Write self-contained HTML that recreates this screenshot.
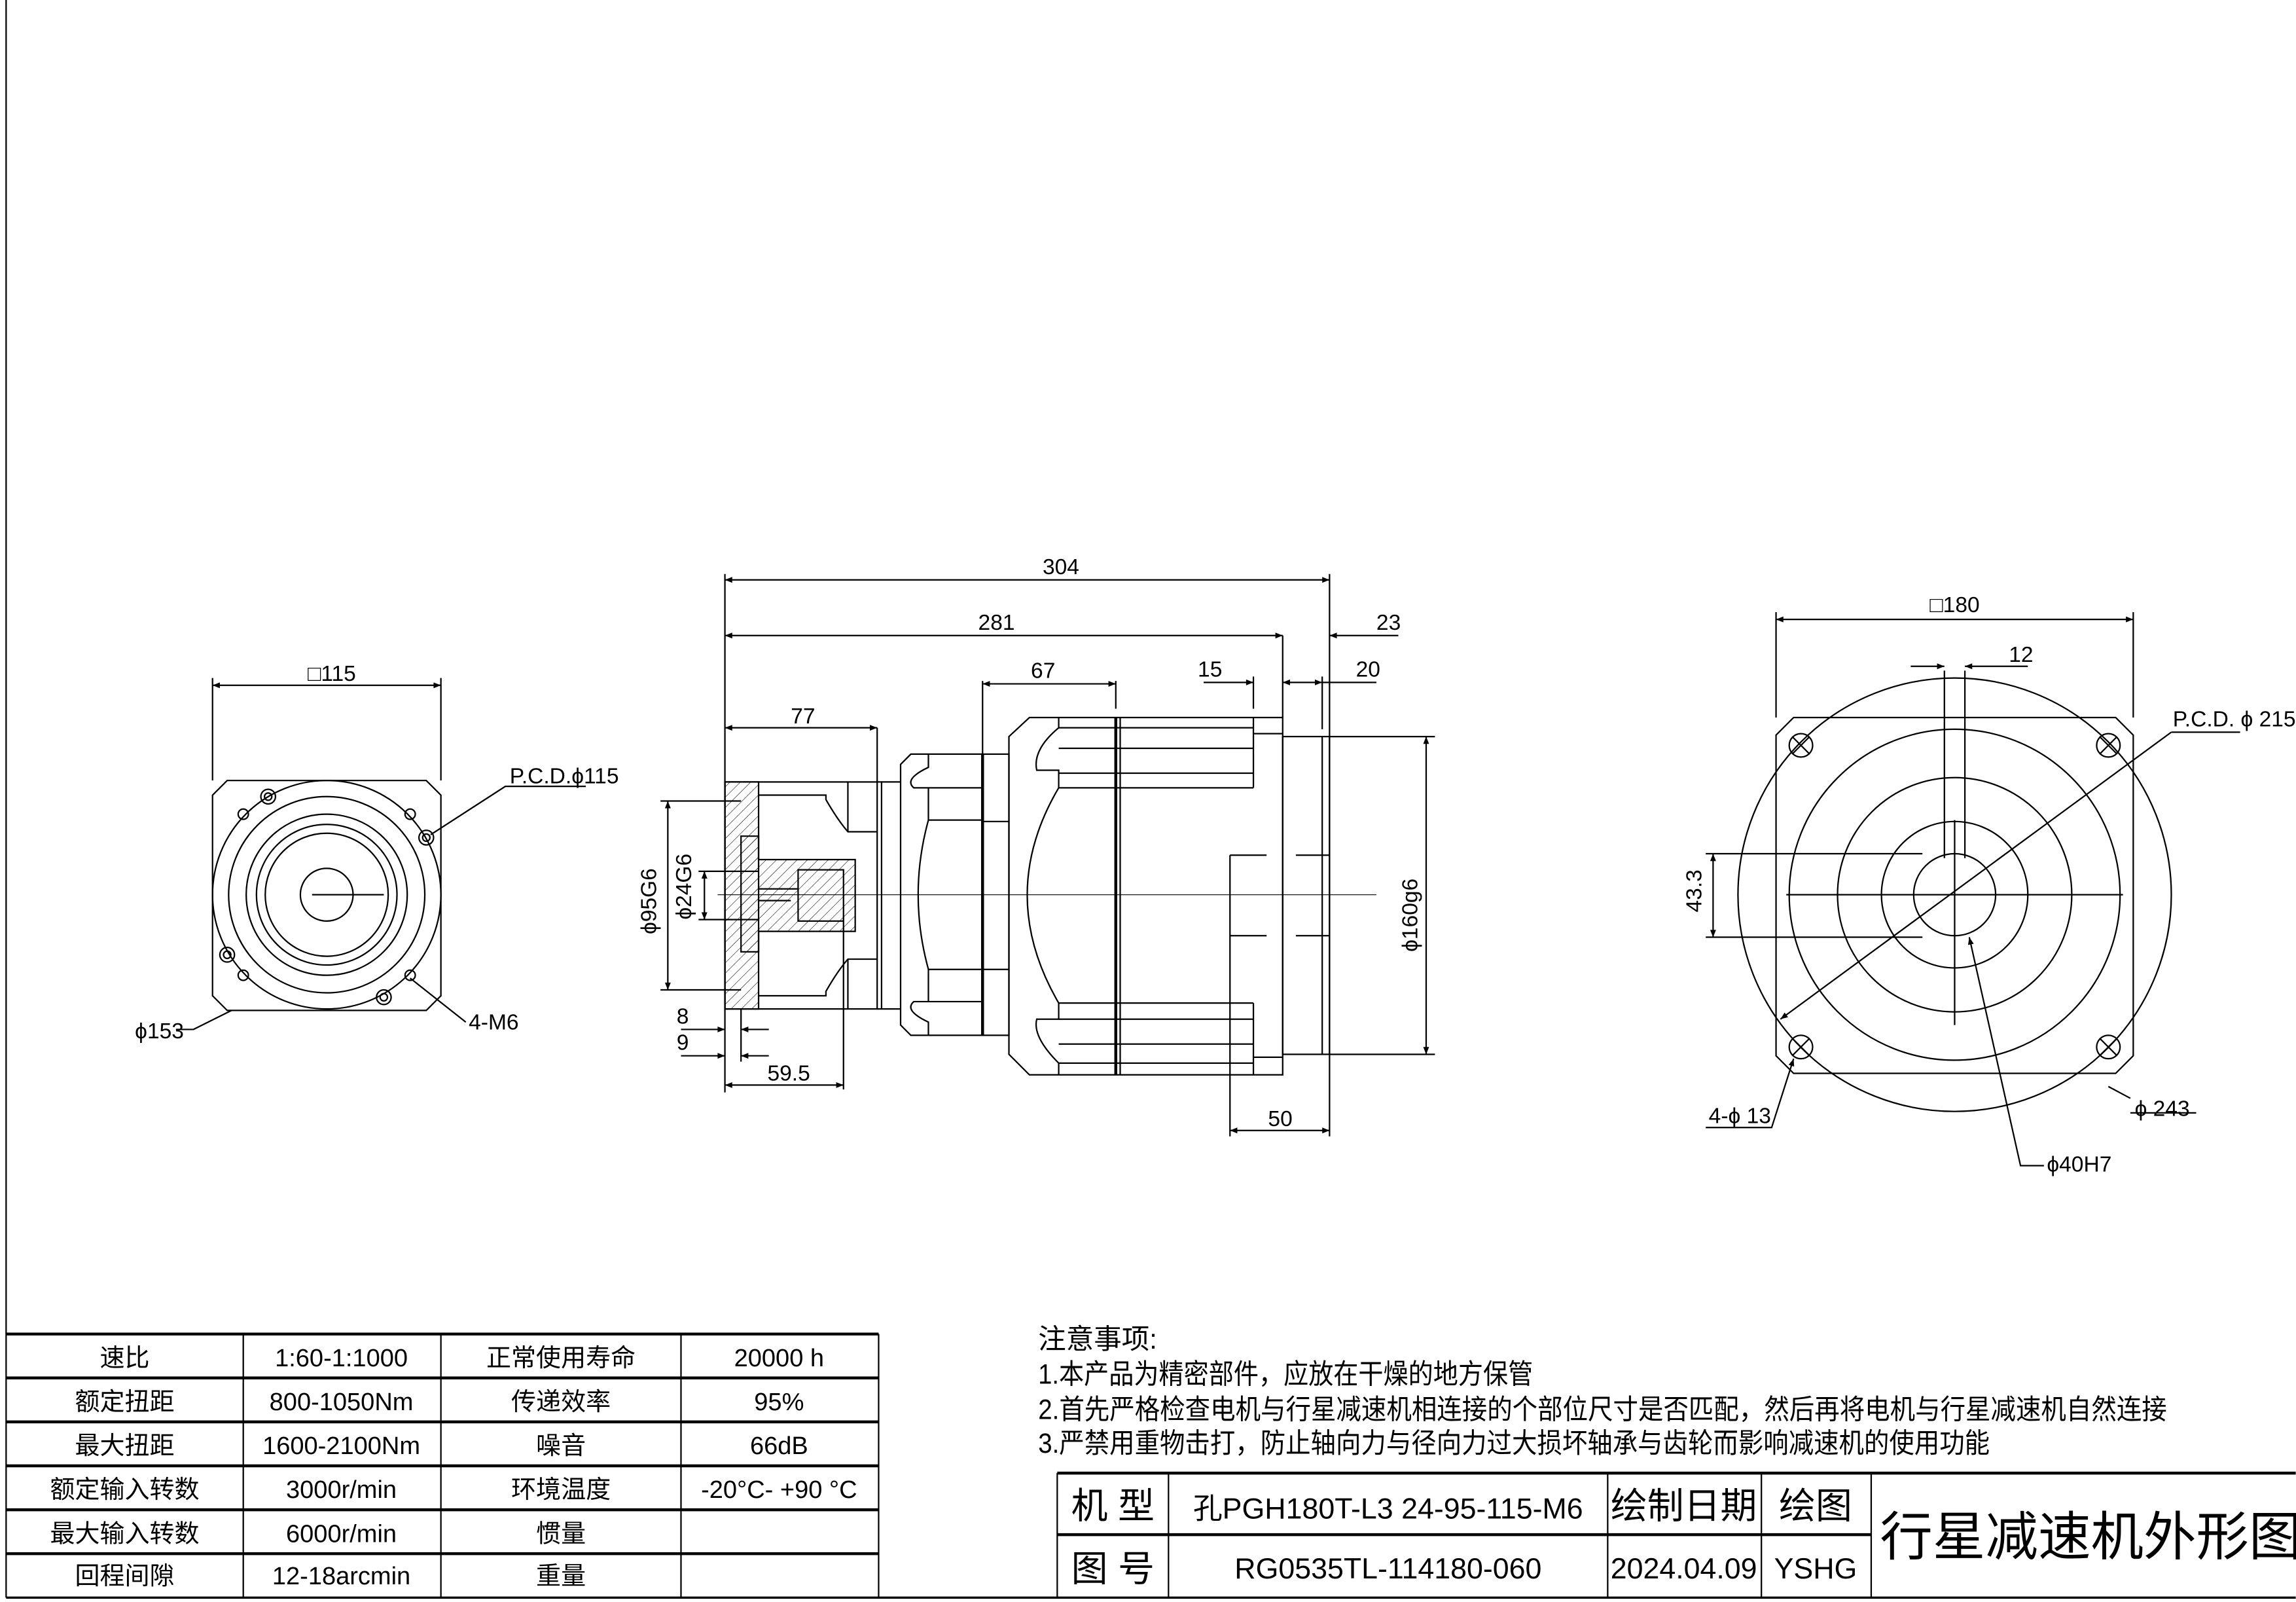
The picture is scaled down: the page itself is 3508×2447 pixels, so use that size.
<!DOCTYPE html>
<html><head><meta charset="utf-8"><style>
html,body{margin:0;padding:0;background:#fff;}
svg{display:block}
text{font-family:"Liberation Sans","Noto Sans CJK SC",sans-serif;fill:#000}
</style></head><body>
<svg width="3508" height="2447" viewBox="0 0 1568 1094" xmlns="http://www.w3.org/2000/svg">
<defs>
<marker id="a" viewBox="0 0 10 10" refX="10" refY="5" markerWidth="9" markerHeight="5" orient="auto-start-reverse" markerUnits="userSpaceOnUse"><path d="M0,1 L10,5 L0,9z" fill="#000"/></marker>
<pattern id="h" width="5" height="5" patternUnits="userSpaceOnUse" patternTransform="rotate(45)"><line x1="0" y1="0" x2="0" y2="5" stroke="#000" stroke-width="0.5"/></pattern>
</defs>
<g fill="none" stroke="#000" stroke-width="1">
<line x1="4" y1="0" x2="4" y2="1091"/>
<line x1="4" y1="1091" x2="1568" y2="1091" stroke-width="1.5"/>

<!-- LEFT VIEW -->
<path d="M155,533 H291 L301,543 V680 L291,690 H155 L145,680 V543 Z"/>
<circle cx="223" cy="611" r="78"/>
<circle cx="223" cy="611" r="67"/>
<circle cx="223" cy="611" r="55"/>
<circle cx="223" cy="611" r="48"/>
<circle cx="223" cy="611" r="42"/>
<circle cx="223" cy="611" r="18"/>
<line x1="213" y1="611" x2="262" y2="611"/>
<circle cx="166" cy="556" r="3.5"/><circle cx="280" cy="556" r="3.5"/><circle cx="166" cy="666" r="3.5"/><circle cx="280" cy="666" r="3.5"/>
<circle cx="183" cy="544" r="5"/><circle cx="183" cy="544" r="2.5"/>
<circle cx="291" cy="572" r="5"/><circle cx="291" cy="572" r="2.5"/>
<circle cx="155" cy="652" r="5"/><circle cx="155" cy="652" r="2.5"/>
<circle cx="262" cy="681" r="5"/><circle cx="262" cy="681" r="2.5"/>
<line x1="145" y1="533" x2="145" y2="463"/><line x1="301" y1="533" x2="301" y2="463"/>
<line x1="145" y1="468" x2="301" y2="468" marker-start="url(#a)" marker-end="url(#a)"/>
<polyline points="294,570 345,537 400,537"/>
<polyline points="280,668 318,698"/>
<polyline points="120,703 132,703 158,690"/>

<!-- CENTER VIEW -->
<line x1="495" y1="392" x2="495" y2="746"/>
<line x1="908" y1="392" x2="908" y2="776"/>
<line x1="495" y1="396" x2="908" y2="396" marker-start="url(#a)" marker-end="url(#a)"/>
<line x1="495" y1="434" x2="876" y2="434" marker-start="url(#a)" marker-end="url(#a)"/>
<line x1="876" y1="434" x2="876" y2="490"/>
<line x1="908" y1="434" x2="955" y2="434" marker-start="url(#a)"/>
<line x1="495" y1="497" x2="599" y2="497" marker-start="url(#a)" marker-end="url(#a)"/>
<line x1="599" y1="497" x2="599" y2="534"/>
<line x1="671" y1="465" x2="671" y2="515"/>
<line x1="762" y1="465" x2="762" y2="484"/>
<line x1="671" y1="467" x2="762" y2="467" marker-start="url(#a)" marker-end="url(#a)"/>
<line x1="856" y1="462" x2="856" y2="484"/>
<line x1="822" y1="466" x2="856" y2="466" marker-end="url(#a)"/>
<line x1="903" y1="462" x2="903" y2="498"/>
<line x1="876" y1="466" x2="903" y2="466" marker-start="url(#a)" marker-end="url(#a)"/>
<line x1="903" y1="466" x2="940" y2="466"/>
<!-- housing -->
<path d="M703,490 H876 V734 H703 L689,720 V503 Z"/>
<line x1="762" y1="490" x2="762" y2="734" stroke-width="2"/>
<line x1="765" y1="490" x2="765" y2="734"/>
<line x1="856" y1="490" x2="856" y2="538"/><line x1="856" y1="685" x2="856" y2="734"/>
<line x1="856" y1="501" x2="876" y2="501"/><line x1="856" y1="722" x2="876" y2="722"/>
<path d="M723,497 H856 M723,511 H856 M723,528 H856 M723,538 H856"/>
<path d="M723,685 H856 M723,696 H856 M723,713 H856 M723,726 H856"/>
<path d="M723,490 V497 Q705,512 708,526 H723 V538 Q680,611 723,685 V696 H708 Q705,708 723,726 V734"/>
<!-- flange -->
<rect x="876" y="503" width="32" height="217"/>
<line x1="903" y1="503" x2="903" y2="720"/>
<line x1="908" y1="503" x2="980" y2="503"/><line x1="908" y1="720" x2="980" y2="720"/>
<line x1="974" y1="503" x2="974" y2="720" marker-start="url(#a)" marker-end="url(#a)"/>
<line x1="840" y1="584" x2="840" y2="776"/>
<line x1="840" y1="584" x2="865" y2="584"/><line x1="885" y1="584" x2="908" y2="584"/>
<line x1="840" y1="639" x2="865" y2="639"/><line x1="885" y1="639" x2="908" y2="639"/>
<line x1="840" y1="772" x2="908" y2="772" marker-start="url(#a)" marker-end="url(#a)"/>
<!-- middle -->
<path d="M622,515 H671 V707 H622 L615,700 V522 Z"/>
<rect x="671" y="515" width="18" height="192"/>
<line x1="671" y1="515" x2="671" y2="707" stroke-width="2"/>
<path d="M634,515 V524 Q617,532 624,538 H671 M634,707 V698 Q617,690 624,684 H671"/>
<path d="M634,560 Q620,611 634,662 M634,538 V560 M634,662 V684"/>
<line x1="634" y1="560" x2="671" y2="560"/><line x1="634" y1="662" x2="671" y2="662"/>
<line x1="671" y1="561" x2="689" y2="561"/><line x1="671" y1="662" x2="689" y2="662"/>
<!-- adapter -->
<rect x="495" y="534" width="104" height="155"/>
<line x1="599" y1="534" x2="615" y2="534"/><line x1="599" y1="689" x2="615" y2="689"/>
<line x1="602" y1="534" x2="602" y2="689"/>
<path d="M495,534 H518 V689 H495Z" fill="url(#h)"/>
<path d="M506,571 H518 V587 H584 V636 H518 V650 H506Z" fill="url(#h)"/>
<path d="M518,543 H564 V546 Q572,560 579,568 H599 M518,680 H564 V677 Q572,663 579,655 H599"/>
<line x1="579" y1="534" x2="579" y2="568"/><line x1="579" y1="655" x2="579" y2="689"/>
<rect x="545" y="594" width="31" height="35"/>
<line x1="518" y1="607" x2="545" y2="607"/><line x1="518" y1="615" x2="540" y2="615"/>
<line x1="576" y1="629" x2="576" y2="744"/>
<line x1="451" y1="547" x2="506" y2="547"/><line x1="451" y1="676" x2="506" y2="676"/>
<line x1="456" y1="547" x2="456" y2="676" marker-start="url(#a)" marker-end="url(#a)"/>
<line x1="477" y1="595" x2="518" y2="595"/><line x1="477" y1="628" x2="518" y2="628"/>
<line x1="481" y1="595" x2="481" y2="628" marker-start="url(#a)" marker-end="url(#a)"/>
<line x1="506" y1="689" x2="506" y2="725"/>
<line x1="465" y1="703" x2="495" y2="703" marker-end="url(#a)"/><line x1="506" y1="703" x2="525" y2="703" marker-start="url(#a)"/>
<line x1="465" y1="721" x2="495" y2="721" marker-end="url(#a)"/><line x1="506" y1="721" x2="525" y2="721" marker-start="url(#a)"/>
<line x1="495" y1="741" x2="576" y2="741" marker-start="url(#a)" marker-end="url(#a)"/>
<line x1="490" y1="611" x2="940" y2="611" stroke-width="0.5"/>

<!-- RIGHT VIEW -->
<path d="M1225,490 H1445 L1457,502 V721 L1445,733 H1225 L1213,721 V502 Z"/>
<circle cx="1335" cy="611" r="148"/>
<circle cx="1335" cy="611" r="113"/>
<circle cx="1335" cy="611" r="80"/>
<circle cx="1335" cy="611" r="50"/>
<circle cx="1335" cy="611" r="28"/>
<line x1="1328" y1="458" x2="1328" y2="586"/><line x1="1342" y1="458" x2="1342" y2="586"/>
<line x1="1220" y1="611" x2="1450" y2="611"/><line x1="1335" y1="560" x2="1335" y2="700"/>
<g><circle cx="1230" cy="509" r="8"/><path d="M1224,503 L1236,515 M1236,503 L1224,515"/></g>
<g><circle cx="1440" cy="509" r="8"/><path d="M1434,503 L1446,515 M1446,503 L1434,515"/></g>
<g><circle cx="1230" cy="715" r="8"/><path d="M1224,709 L1236,721 M1236,709 L1224,721"/></g>
<g><circle cx="1440" cy="715" r="8"/><path d="M1434,709 L1446,721 M1446,709 L1434,721"/></g>
<line x1="1213" y1="490" x2="1213" y2="418"/><line x1="1457" y1="490" x2="1457" y2="418"/>
<line x1="1213" y1="423" x2="1457" y2="423" marker-start="url(#a)" marker-end="url(#a)"/>
<line x1="1305" y1="455" x2="1328" y2="455" marker-end="url(#a)"/><line x1="1342" y1="455" x2="1385" y2="455" marker-start="url(#a)"/>
<line x1="1165" y1="583" x2="1313" y2="583"/><line x1="1165" y1="640" x2="1313" y2="640"/>
<line x1="1170" y1="583" x2="1170" y2="640" marker-start="url(#a)" marker-end="url(#a)"/>
<line x1="1216" y1="696" x2="1483" y2="500" marker-start="url(#a)"/>
<line x1="1483" y1="500" x2="1530" y2="500"/>
<polyline points="1165,770 1210,770 1225,723" marker-end="url(#a)"/>
<line x1="1440" y1="742" x2="1455" y2="750"/><line x1="1455" y1="760" x2="1500" y2="760"/>
<polyline points="1396,796 1380,796 1345,640" marker-end="url(#a)"/>

<!-- TABLE -->
<path d="M4,911 H600 M4,941 H600 M4,971 H600 M4,1001 H600 M4,1031 H600 M4,1061 H600" stroke-width="2"/>
<path d="M166,911 V1091 M301,911 V1091 M465,911 V1091 M600,911 V1091"/>
<path d="M722,1006 H1568 M722,1048 H1278" stroke-width="2"/>
<path d="M722,1006 V1091 M798,1006 V1091 M1098,1006 V1091 M1203,1006 V1091 M1278,1006 V1091"/>
</g>

<g font-size="15">
<text x="210" y="465">□115</text>
<text x="348" y="535">P.C.D.ϕ115</text>
<text x="92" y="709">ϕ153</text>
<text x="320" y="703">4-M6</text>
<text x="712" y="392">304</text>
<text x="668" y="430">281</text>
<text x="940" y="430">23</text>
<text x="540" y="494">77</text>
<text x="704" y="463">67</text>
<text x="818" y="462">15</text>
<text x="926" y="462">20</text>
<text x="866" y="769">50</text>
<text x="524" y="738">59.5</text>
<text x="462" y="699">8</text>
<text x="462" y="717">9</text>
<text transform="translate(448,638) rotate(-90)">ϕ95G6</text>
<text transform="translate(472,628) rotate(-90)">ϕ24G6</text>
<text transform="translate(968,650) rotate(-90)">ϕ160g6</text>
<text x="1318" y="418">□180</text>
<text x="1372" y="452">12</text>
<text transform="translate(1162,623) rotate(-90)">43.3</text>
<text x="1484" y="496">P.C.D. ϕ 215</text>
<text x="1458" y="762">ϕ 243</text>
<text x="1167" y="767">4-ϕ 13</text>
<text x="1398" y="800">ϕ40H7</text>
</g>

<g font-size="17" text-anchor="middle">
<text x="85" y="933">速比</text><text x="233" y="933">1:60-1:1000</text><text x="383" y="933">正常使用寿命</text><text x="532" y="933">20000 h</text>
<text x="85" y="963">额定扭距</text><text x="233" y="963">800-1050Nm</text><text x="383" y="963">传递效率</text><text x="532" y="963">95%</text>
<text x="85" y="993">最大扭距</text><text x="233" y="993">1600-2100Nm</text><text x="383" y="993">噪音</text><text x="532" y="993">66dB</text>
<text x="85" y="1023">额定输入转数</text><text x="233" y="1023">3000r/min</text><text x="383" y="1023">环境温度</text><text x="532" y="1023">-20°C- +90 °C</text>
<text x="85" y="1053">最大输入转数</text><text x="233" y="1053">6000r/min</text><text x="383" y="1053">惯量</text>
<text x="85" y="1082">回程间隙</text><text x="233" y="1082">12-18arcmin</text><text x="383" y="1082">重量</text>
</g>
<g font-size="19">
<text x="709" y="921">注意事项:</text>
<text x="709" y="945" textLength="338" lengthAdjust="spacingAndGlyphs">1.本产品为精密部件，应放在干燥的地方保管</text>
<text x="709" y="969" textLength="771" lengthAdjust="spacingAndGlyphs">2.首先严格检查电机与行星减速机相连接的个部位尺寸是否匹配，然后再将电机与行星减速机自然连接</text>
<text x="709" y="992" textLength="650" lengthAdjust="spacingAndGlyphs">3.严禁用重物击打，防止轴向力与径向力过大损坏轴承与齿轮而影响减速机的使用功能</text>
</g>
<g text-anchor="middle">
<text x="760" y="1037" font-size="25">机 型</text>
<text x="948" y="1037" font-size="20">孔PGH180T-L3 24-95-115-M6</text>
<text x="1150" y="1037" font-size="25">绘制日期</text>
<text x="1240" y="1037" font-size="25">绘图</text>
<text x="760" y="1080" font-size="25">图 号</text>
<text x="948" y="1078" font-size="20">RG0535TL-114180-060</text>
<text x="1150" y="1078" font-size="20">2024.04.09</text>
<text x="1240" y="1078" font-size="20">YSHG</text>
<text x="1428" y="1062" font-size="36">行星减速机外形图</text>
</g>
</svg>
</body></html>
